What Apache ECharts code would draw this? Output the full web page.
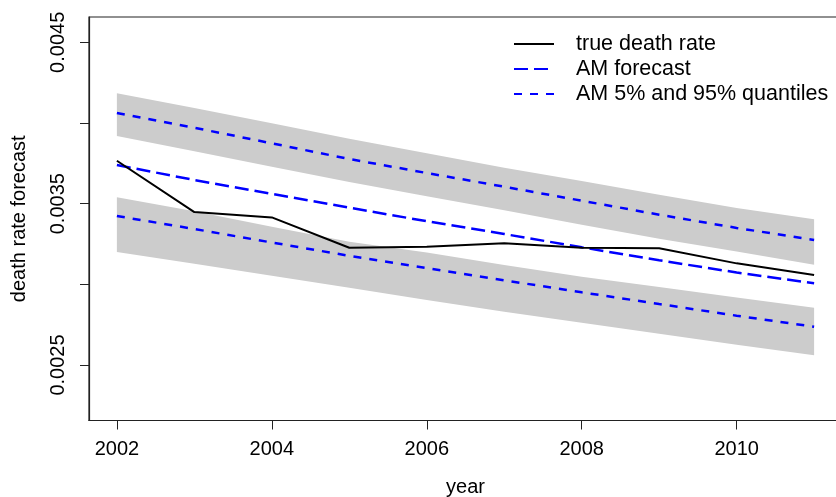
<!DOCTYPE html>
<html>
<head>
<meta charset="utf-8">
<script src="https://cdn.jsdelivr.net/npm/echarts@6/dist/echarts.min.js"></script>
<style>
  html, body { margin: 0; padding: 0; background: #ffffff; }
  #chart { width: 836px; height: 497px; }
</style>
</head>
<body>
<div id="chart"></div>
<script>
// Forecast years
const years = [2002, 2003, 2004, 2005, 2006, 2007, 2008, 2009, 2010, 2011];

// Observed death rate
const trueDeathRate = [0.003766, 0.003448, 0.003415, 0.003227, 0.003233, 0.003254, 0.003227, 0.003223, 0.003130, 0.003058];

// AM point forecast
const amForecast = [0.0037395, 0.0036466, 0.0035610, 0.0034749, 0.0033912, 0.0033119, 0.0032295, 0.0031489, 0.0030733, 0.0030064];

// AM 95% and 5% quantiles
const amQ95 = [0.0040618, 0.0039707, 0.0038740, 0.0037767, 0.0036900, 0.0036050, 0.0035183, 0.0034315, 0.0033497, 0.0032747];
const amQ05 = [0.0034235, 0.0033429, 0.0032592, 0.0031768, 0.0031012, 0.0030250, 0.0029506, 0.0028780, 0.0028056, 0.0027374];

// Shaded ranges around each quantile
const q95BandHigh = [0.0041839, 0.0040928, 0.0039980, 0.0039025, 0.0038121, 0.0037228, 0.0036404, 0.0035555, 0.0034737, 0.0034030];
const q95BandLow  = [0.0039193, 0.0038244, 0.0037290, 0.0036342, 0.0035456, 0.0034588, 0.0033695, 0.0032828, 0.0032028, 0.0031216];
const q05BandHigh = [0.0035394, 0.0034526, 0.0033571, 0.0032642, 0.0031971, 0.0031198, 0.0030473, 0.0029834, 0.0029183, 0.0028551];
const q05BandLow  = [0.0032003, 0.0031278, 0.0030535, 0.0029791, 0.0029028, 0.0028303, 0.0027622, 0.0026940, 0.0026258, 0.0025601];

// Axis tick positions and labels
const xTicks = [2002, 2004, 2006, 2008, 2010];
const yTicks = [0.0025, 0.0030, 0.0035, 0.0040, 0.0045];
const yLabels = [0.0025, 0.0035, 0.0045];

const FONT = '"Liberation Sans", Arial, Helvetica, sans-serif';
const pairs = (vals) => years.map((y, i) => [y, vals[i]]);

function bandSeries(high, low) {
  return {
    type: 'custom',
    silent: true,
    z: 1,
    data: [[years[0], high[0]]],
    renderItem: function (params, api) {
      const upper = years.map((y, i) => api.coord([y, high[i]]));
      const lower = years.map((y, i) => api.coord([y, low[i]])).reverse();
      return {
        type: 'polygon',
        shape: { points: upper.concat(lower) },
        style: { fill: '#cccccc', stroke: null }
      };
    }
  };
}

const chart = echarts.init(document.getElementById('chart'), null, { renderer: 'canvas' });

chart.setOption({
  animation: false,
  backgroundColor: '#ffffff',
  textStyle: { fontFamily: FONT },
  grid: {
    left: 89, top: 17, width: 753, height: 403.5,
    outerBoundsMode: 'none',
    containLabel: false,
    show: true, borderColor: '#222222', borderWidth: 1.2, backgroundColor: 'transparent'
  },
  legend: {
    orient: 'vertical',
    left: 513, top: 33,
    padding: 0,
    itemWidth: 40, itemHeight: 14, itemGap: 3,
    data: ['true death rate', 'AM forecast', 'AM 5% and 95% quantiles'],
    itemStyle: { opacity: 0 },
    textStyle: { fontFamily: FONT, fontSize: 21.5, color: '#000', lineHeight: 20, padding: [0, 0, 0, 17] },
    selectedMode: false
  },
  xAxis: {
    type: 'value',
    min: 2001.64, max: 2011.36,
    name: 'year',
    nameLocation: 'middle',
    nameGap: 56.5,
    nameTextStyle: { fontFamily: FONT, fontSize: 20, color: '#000' },
    axisLine: { show: true, onZero: false, lineStyle: { color: '#222', width: 1.2 } },
    axisTick: { show: true, length: 9, customValues: xTicks, lineStyle: { color: '#222', width: 1 } },
    axisLabel: { customValues: xTicks, fontFamily: FONT, fontSize: 20, color: '#000', margin: 19, formatter: v => String(v) },
    splitLine: { show: false }
  },
  yAxis: {
    type: 'value',
    min: 0.002156, max: 0.004657,
    name: 'death rate forecast',
    nameLocation: 'middle',
    nameGap: 60,
    nameRotate: 90,
    nameTextStyle: { fontFamily: FONT, fontSize: 20, color: '#000' },
    axisLine: { show: true, onZero: false, lineStyle: { color: '#222', width: 1.2 } },
    axisTick: { show: true, length: 9, customValues: yTicks, lineStyle: { color: '#222', width: 1 } },
    axisLabel: { customValues: yLabels, rotate: 90, fontFamily: FONT, fontSize: 20, color: '#000', margin: 21, formatter: v => v.toFixed(4) },
    splitLine: { show: false }
  },
  series: [
    bandSeries(q95BandHigh, q95BandLow),
    bandSeries(q05BandHigh, q05BandLow),
    {
      name: 'true death rate', type: 'line', z: 4, symbol: 'none',
      data: pairs(trueDeathRate),
      lineStyle: { color: '#000000', width: 2 }, itemStyle: { color: '#000000' }
    },
    {
      name: 'AM forecast', type: 'line', z: 3, symbol: 'none',
      data: pairs(amForecast),
      lineStyle: { color: '#0000ff', width: 2.5, type: [14, 6] }, itemStyle: { color: '#0000ff' }
    },
    {
      name: 'AM 5% and 95% quantiles', type: 'line', z: 3, symbol: 'none',
      data: pairs(amQ95),
      lineStyle: { color: '#0000ff', width: 2.5, type: [8, 8] }, itemStyle: { color: '#0000ff' }
    },
    {
      name: 'AM 5% and 95% quantiles', type: 'line', z: 3, symbol: 'none',
      data: pairs(amQ05),
      lineStyle: { color: '#0000ff', width: 2.5, type: [8, 8] }, itemStyle: { color: '#0000ff' }
    }
  ]
});
</script>
</body>
</html>
